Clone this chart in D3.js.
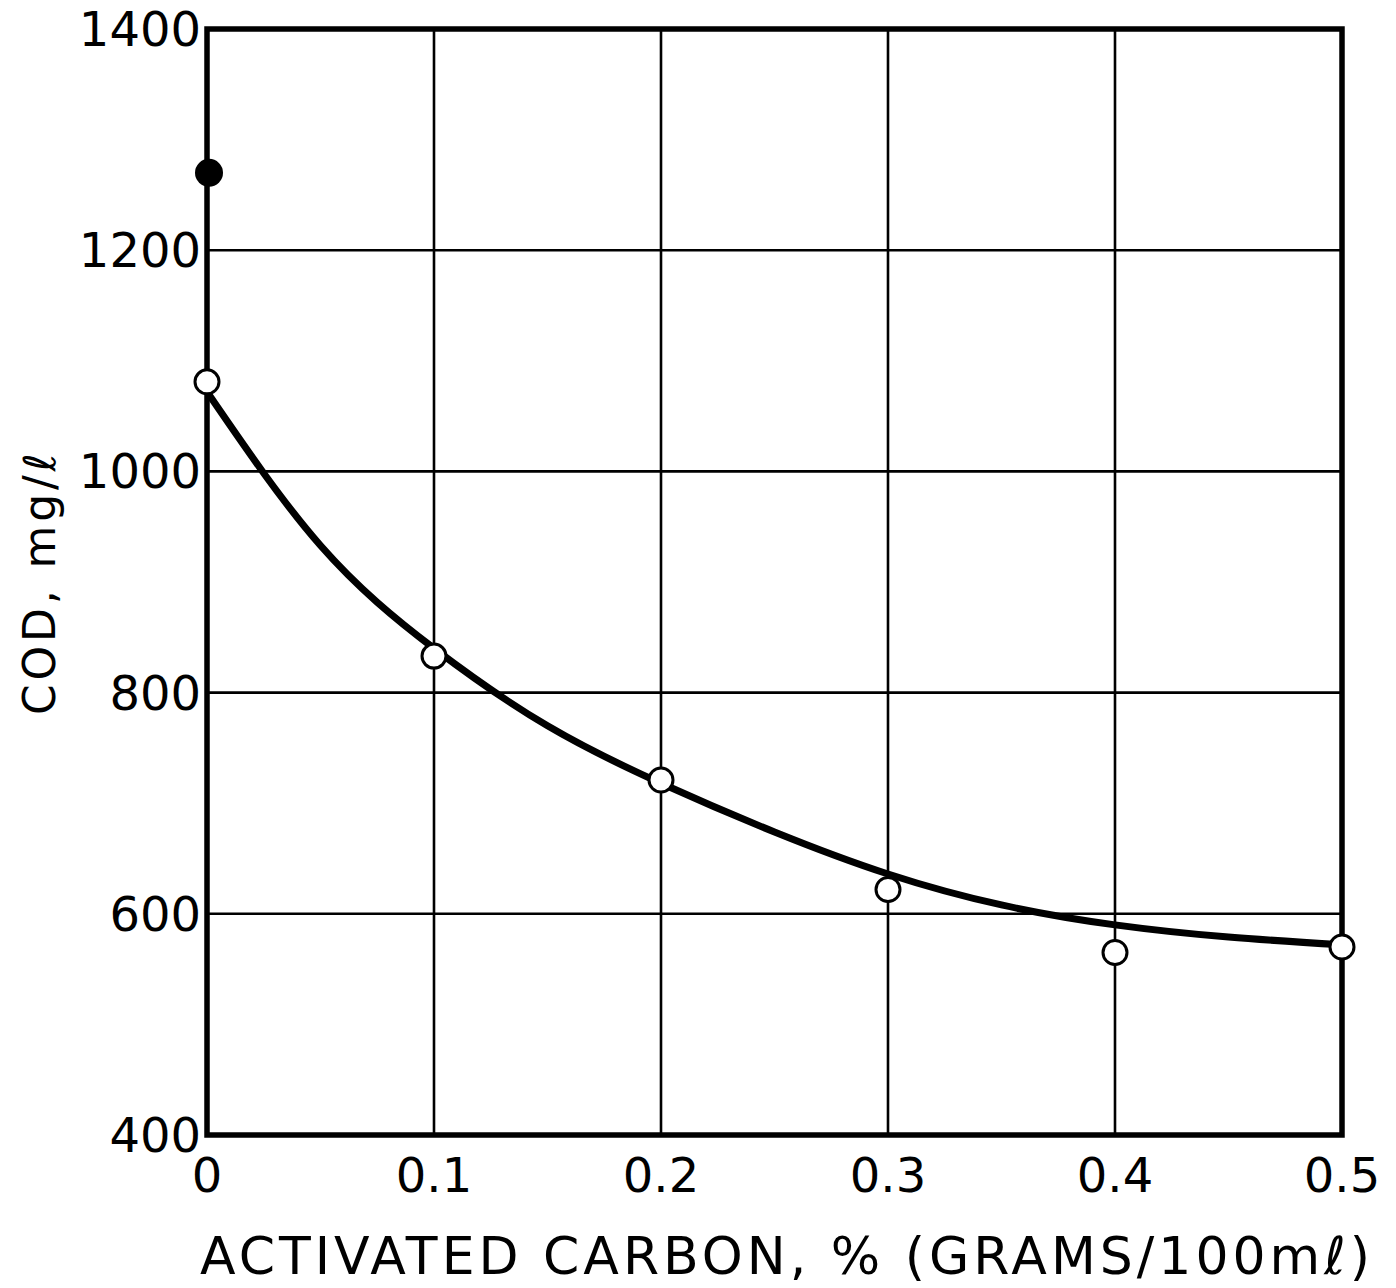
<!DOCTYPE html>
<html>
<head>
<meta charset="utf-8">
<script src="https://cdn.jsdelivr.net/npm/d3@7"></script>
<style>
  body { margin: 0; background: #fff; }
  svg { display: block; }
  text { font-family: "DejaVu Sans", sans-serif; fill: #000; }
</style>
</head>
<body>
<svg id="plot" width="1396" height="1288"></svg>
<script>
// measured points (open circles)
const carbon = [0, 0.1, 0.2, 0.3, 0.4, 0.5];
const cod = [1081, 833, 721, 622, 565, 570];
// filled point (untreated)
const rawX = [0];
const rawY = [1270];
// hand drawn smooth curve
const curveX = [0, 0.05, 0.1, 0.15, 0.2, 0.25, 0.3, 0.35, 0.4, 0.45, 0.5];
const curveY = [1072, 933, 840, 770, 718, 674, 636, 608, 590, 579, 572];
const xTicks = [0, 0.1, 0.2, 0.3, 0.4, 0.5];
const xTickLabels = ["0", "0.1", "0.2", "0.3", "0.4", "0.5"];
const yTicks = [400, 600, 800, 1000, 1200, 1400];

const svg = d3.select('#plot');
const plotLeft = 207, plotRight = 1342, plotTop = 29, plotBottom = 1135;

const x = d3.scaleLinear().domain([0, 0.5]).range([plotLeft, plotRight]);
const y = d3.scaleLinear().domain([400, 1400]).range([plotBottom, plotTop]);

// grid
svg.append('g').selectAll('line')
  .data(xTicks.slice(1, -1))
  .enter().append('line')
    .attr('x1', d => x(d)).attr('x2', d => x(d))
    .attr('y1', plotTop).attr('y2', plotBottom)
    .attr('stroke', '#000').attr('stroke-width', 2.6);

svg.append('g').selectAll('line')
  .data(yTicks.slice(1, -1))
  .enter().append('line')
    .attr('x1', plotLeft).attr('x2', plotRight)
    .attr('y1', d => y(d)).attr('y2', d => y(d))
    .attr('stroke', '#000').attr('stroke-width', 2.6);

// frame
svg.append('rect')
  .attr('x', plotLeft).attr('y', plotTop)
  .attr('width', plotRight - plotLeft).attr('height', plotBottom - plotTop)
  .attr('fill', 'none').attr('stroke', '#000').attr('stroke-width', 5.5);

// tick labels
svg.append('g').selectAll('text')
  .data(yTicks)
  .enter().append('text')
    .attr('x', plotLeft - 6)
    .attr('y', d => y(d) + 17)
    .attr('text-anchor', 'end')
    .style('font-size', '48px')
    .text(d => d);

svg.append('g').selectAll('text')
  .data(xTicks)
  .enter().append('text')
    .attr('x', d => x(d))
    .attr('y', plotBottom + 57)
    .attr('text-anchor', 'middle')
    .style('font-size', '48px')
    .text((d, i) => xTickLabels[i]);

// axis titles
svg.append('text')
  .attr('x', 200).attr('y', 1274)
  .attr('textLength', 1170)
  .attr('lengthAdjust', 'spacing')
  .style('font-size', '52px')
  .text('ACTIVATED  CARBON,  %  (GRAMS/100mℓ)');

svg.append('text')
  .attr('transform', 'translate(55,584) rotate(-90)')
  .attr('text-anchor', 'middle')
  .attr('textLength', 262)
  .attr('lengthAdjust', 'spacing')
  .style('font-size', '44px')
  .text('COD, mg/ℓ');

// fitted curve (evenly spaced knots, so the natural spline stays smooth)
const line = d3.line()
  .x(d => x(d[0]))
  .y(d => y(d[1]))
  .curve(d3.curveNatural);

svg.append('path')
  .datum(curveX.map((v, i) => [v, curveY[i]]))
  .attr('d', line)
  .attr('fill', 'none')
  .attr('stroke', '#000')
  .attr('stroke-width', 7);

// points
svg.append('g').selectAll('circle')
  .data(carbon.map((v, i) => [v, cod[i]]))
  .enter().append('circle')
    .attr('cx', d => x(d[0]))
    .attr('cy', d => y(d[1]))
    .attr('r', 12)
    .attr('fill', '#fff')
    .attr('stroke', '#000')
    .attr('stroke-width', 3);

svg.append('g').selectAll('circle')
  .data(rawX.map((v, i) => [v, rawY[i]]))
  .enter().append('circle')
    .attr('cx', d => x(d[0]) + 2)
    .attr('cy', d => y(d[1]))
    .attr('r', 14)
    .attr('fill', '#000');
</script>
</body>
</html>
